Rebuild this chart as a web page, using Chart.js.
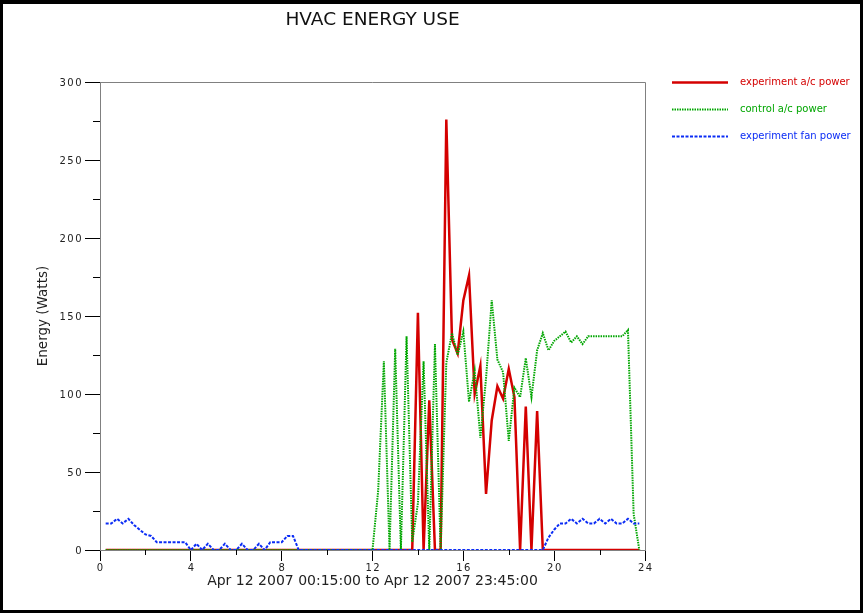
<!DOCTYPE html>
<html>
<head>
<meta charset="utf-8">
<title>HVAC Energy Use</title>
<script src="https://cdn.jsdelivr.net/npm/chart.js@4.4.1/dist/chart.umd.min.js"></script>
<style>
  html, body { margin: 0; padding: 0; background: #fff; }
  #wrap { position: relative; width: 865px; height: 614px; }
  #frame { position: absolute; left: 0; top: 0; width: 857px; height: 606px;
           border: 3px solid #000; border-top-width: 4px; pointer-events: none; }
</style>
</head>
<body>
<div id="wrap">
  <canvas id="hvac"></canvas>
  <div id="frame"></div>
</div>
<script>
// 15 minute samples for Apr 12 2007
const times = [
  "00:15","00:30","00:45",
  "01:00","01:15","01:30","01:45",
  "02:00","02:15","02:30","02:45",
  "03:00","03:15","03:30","03:45",
  "04:00","04:15","04:30","04:45",
  "05:00","05:15","05:30","05:45",
  "06:00","06:15","06:30","06:45",
  "07:00","07:15","07:30","07:45",
  "08:00","08:15","08:30","08:45",
  "09:00","09:15","09:30","09:45",
  "10:00","10:15","10:30","10:45",
  "11:00","11:15","11:30","11:45",
  "12:00","12:15","12:30","12:45",
  "13:00","13:15","13:30","13:45",
  "14:00","14:15","14:30","14:45",
  "15:00","15:15","15:30","15:45",
  "16:00","16:15","16:30","16:45",
  "17:00","17:15","17:30","17:45",
  "18:00","18:15","18:30","18:45",
  "19:00","19:15","19:30","19:45",
  "20:00","20:15","20:30","20:45",
  "21:00","21:15","21:30","21:45",
  "22:00","22:15","22:30","22:45",
  "23:00","23:15","23:30","23:45"
];

// watts, one value per sample
const expAcPower = [
  0,0,0,
  0,0,0,0,  0,0,0,0,  0,0,0,0,  0,0,0,0,
  0,0,0,0,  0,0,0,0,  0,0,0,0,  0,0,0,0,
  0,0,0,0,  0,0,0,0,  0,0,0,0,  0,0,0,0,
  0,0,0,0,  152,0,96,0,  0,276,135,126,  160,176,100,118,
  36,83,105,97,  116,98,0,92,  0,89,0,0,  0,0,0,0,
  0,0,0,0,  0,0,0,0,  0,0,0,0
];

const ctrlAcPower = [
  0,0,0,
  0,0,0,0,  0,0,0,0,  0,0,0,0,  0,0,0,0,
  0,0,0,0,  0,0,0,0,  0,0,0,0,  0,0,0,0,
  0,0,0,0,  0,0,0,0,  0,0,0,0,  0,38,121,0,
  129,0,137,5,  30,121,0,132,  0,120,139,125,  140,95,115,72,
  110,160,122,114,  70,104,98,123,  98,128,139,128,  134,137,140,133,
  137,132,137,137,  137,137,137,137,  137,141,23,0
];

const expFanPower = [
  17,17,20,
  17,20,16,13,  10,9,5,5,  5,5,5,5,  0,4,0,4,
  0,0,4,0,  0,4,0,0,  4,0,5,5,  5,9,9,0,
  0,0,0,0,  0,0,0,0,  0,0,0,0,  0,0,0,0,
  0,0,0,0,  0,0,0,0,  0,0,0,0,  0,0,0,0,
  0,0,0,0,  0,0,0,0,  0,0,0,8,  13,17,17,20,
  17,20,17,17,  20,17,20,17,  17,20,17,17
];

const xTicks = [0, 4, 8, 12, 16, 20, 24];
const xMinorTicks = [2, 6, 10, 14, 18, 22];
const yTicks = [0, 50, 100, 150, 200, 250, 300];
const yMinorTicks = [25, 75, 125, 175, 225, 275];

function toHours(t){
  const [h, m] = t.split(":").map(Number);
  return h + m / 60;
}
function series(values){
  return times.map((t, i) => ({ x: toHours(t), y: values[i] }));
}

// plot box edges, minor ticks, spaced tick labels and the side legend
const hvacDecor = {
  id: "hvacDecor",
  beforeDatasetsDraw(chart){
    const { ctx, chartArea: a, scales: { x, y } } = chart;
    ctx.save();
    ctx.lineWidth = 1;
    ctx.strokeStyle = "#808080";
    ctx.beginPath();
    ctx.moveTo(a.left, a.top + 0.5);
    ctx.lineTo(a.right + 0.5, a.top + 0.5);
    ctx.lineTo(a.right + 0.5, a.bottom);
    ctx.stroke();

    ctx.strokeStyle = "#000";
    ctx.beginPath();
    yMinorTicks.forEach(v => {
      const py = Math.round(y.getPixelForValue(v)) + 0.5;
      ctx.moveTo(a.left - 7, py);
      ctx.lineTo(a.left, py);
    });
    xMinorTicks.forEach(v => {
      const px = Math.round(x.getPixelForValue(v)) + 0.5;
      ctx.moveTo(px, a.bottom);
      ctx.lineTo(px, a.bottom + 5);
    });
    ctx.stroke();

    ctx.fillStyle = "#222";
    ctx.font = '10px "DejaVu Sans"';
    ctx.letterSpacing = "1.5px";
    ctx.textBaseline = "middle";
    ctx.textAlign = "right";
    yTicks.forEach(v => ctx.fillText(String(v), a.left - 17, y.getPixelForValue(v) + 1));
    ctx.textAlign = "center";
    xTicks.forEach(v => ctx.fillText(String(v), x.getPixelForValue(v) + 0.75, a.bottom + 18.5));
    ctx.restore();
  },
  afterDraw(chart){
    const { ctx, chartArea: a } = chart;
    ctx.save();
    ctx.font = '10px "DejaVu Sans"';
    ctx.textAlign = "left";
    ctx.textBaseline = "middle";
    chart.data.datasets.forEach((ds, i) => {
      const ly = a.top + 0.5 + i * 27;
      ctx.strokeStyle = ds.borderColor;
      ctx.lineWidth = ds.borderWidth;
      ctx.setLineDash(ds.borderDash || []);
      ctx.beginPath();
      ctx.moveTo(a.right + 27, ly);
      ctx.lineTo(a.right + 83, ly);
      ctx.stroke();
      ctx.setLineDash([]);
      ctx.fillStyle = ds.borderColor;
      ctx.fillText(ds.label, a.right + 95, ly);
    });
    ctx.restore();
  }
};

Chart.defaults.font.family = '"DejaVu Sans", sans-serif';
Chart.defaults.color = "#222";

new Chart(document.getElementById("hvac"), {
  type: "line",
  data: {
    datasets: [
      { label: "experiment a/c power", data: series(expAcPower),
        borderColor: "#d40000", borderWidth: 2.5, order: 3 },
      { label: "control a/c power", data: series(ctrlAcPower),
        borderColor: "#00a600", borderWidth: 2, borderDash: [1.5, 1], order: 2 },
      { label: "experiment fan power", data: series(expFanPower),
        borderColor: "#0b2cf5", borderWidth: 2, borderDash: [3, 1.5], order: 1 }
    ]
  },
  options: {
    responsive: true,
    maintainAspectRatio: false,
    animation: false,
    devicePixelRatio: 1,
    elements: { point: { radius: 0 }, line: { tension: 0, fill: false } },
    layout: { padding: { left: 0, right: 220, top: 0, bottom: 0 } },
    plugins: {
      legend: { display: false },
      tooltip: { enabled: false },
      title: {
        display: true,
        text: "HVAC ENERGY USE",
        fullSize: false,
        color: "#111",
        font: { size: 18.5, weight: "normal" },
        padding: { top: 9.2, bottom: 50.6 }
      }
    },
    scales: {
      x: {
        type: "linear",
        min: 0, max: 24,
        afterBuildTicks: s => { s.ticks = xTicks.map(v => ({ value: v })); },
        afterFit: s => { s.height = 64; },
        ticks: { display: false },
        grid: { drawOnChartArea: false, tickLength: 11, tickColor: "#000" },
        border: { color: "#808080" },
        title: {
          display: true,
          text: "Apr 12 2007 00:15:00 to Apr 12 2007 23:45:00",
          color: "#222",
          font: { size: 14 },
          padding: { top: 0, bottom: 24.6 }
        }
      },
      y: {
        min: 0, max: 300,
        afterBuildTicks: s => { s.ticks = yTicks.map(v => ({ value: v })); },
        afterFit: s => { s.width = 100; },
        ticks: { display: false },
        grid: { drawOnChartArea: false, tickLength: 15, tickColor: "#000" },
        border: { color: "#808080" },
        title: {
          display: true,
          text: "Energy (Watts)",
          color: "#222",
          font: { size: 13.5 },
          padding: { top: 35.2, bottom: 0 }
        }
      }
    }
  },
  plugins: [hvacDecor]
});
</script>
</body>
</html>
